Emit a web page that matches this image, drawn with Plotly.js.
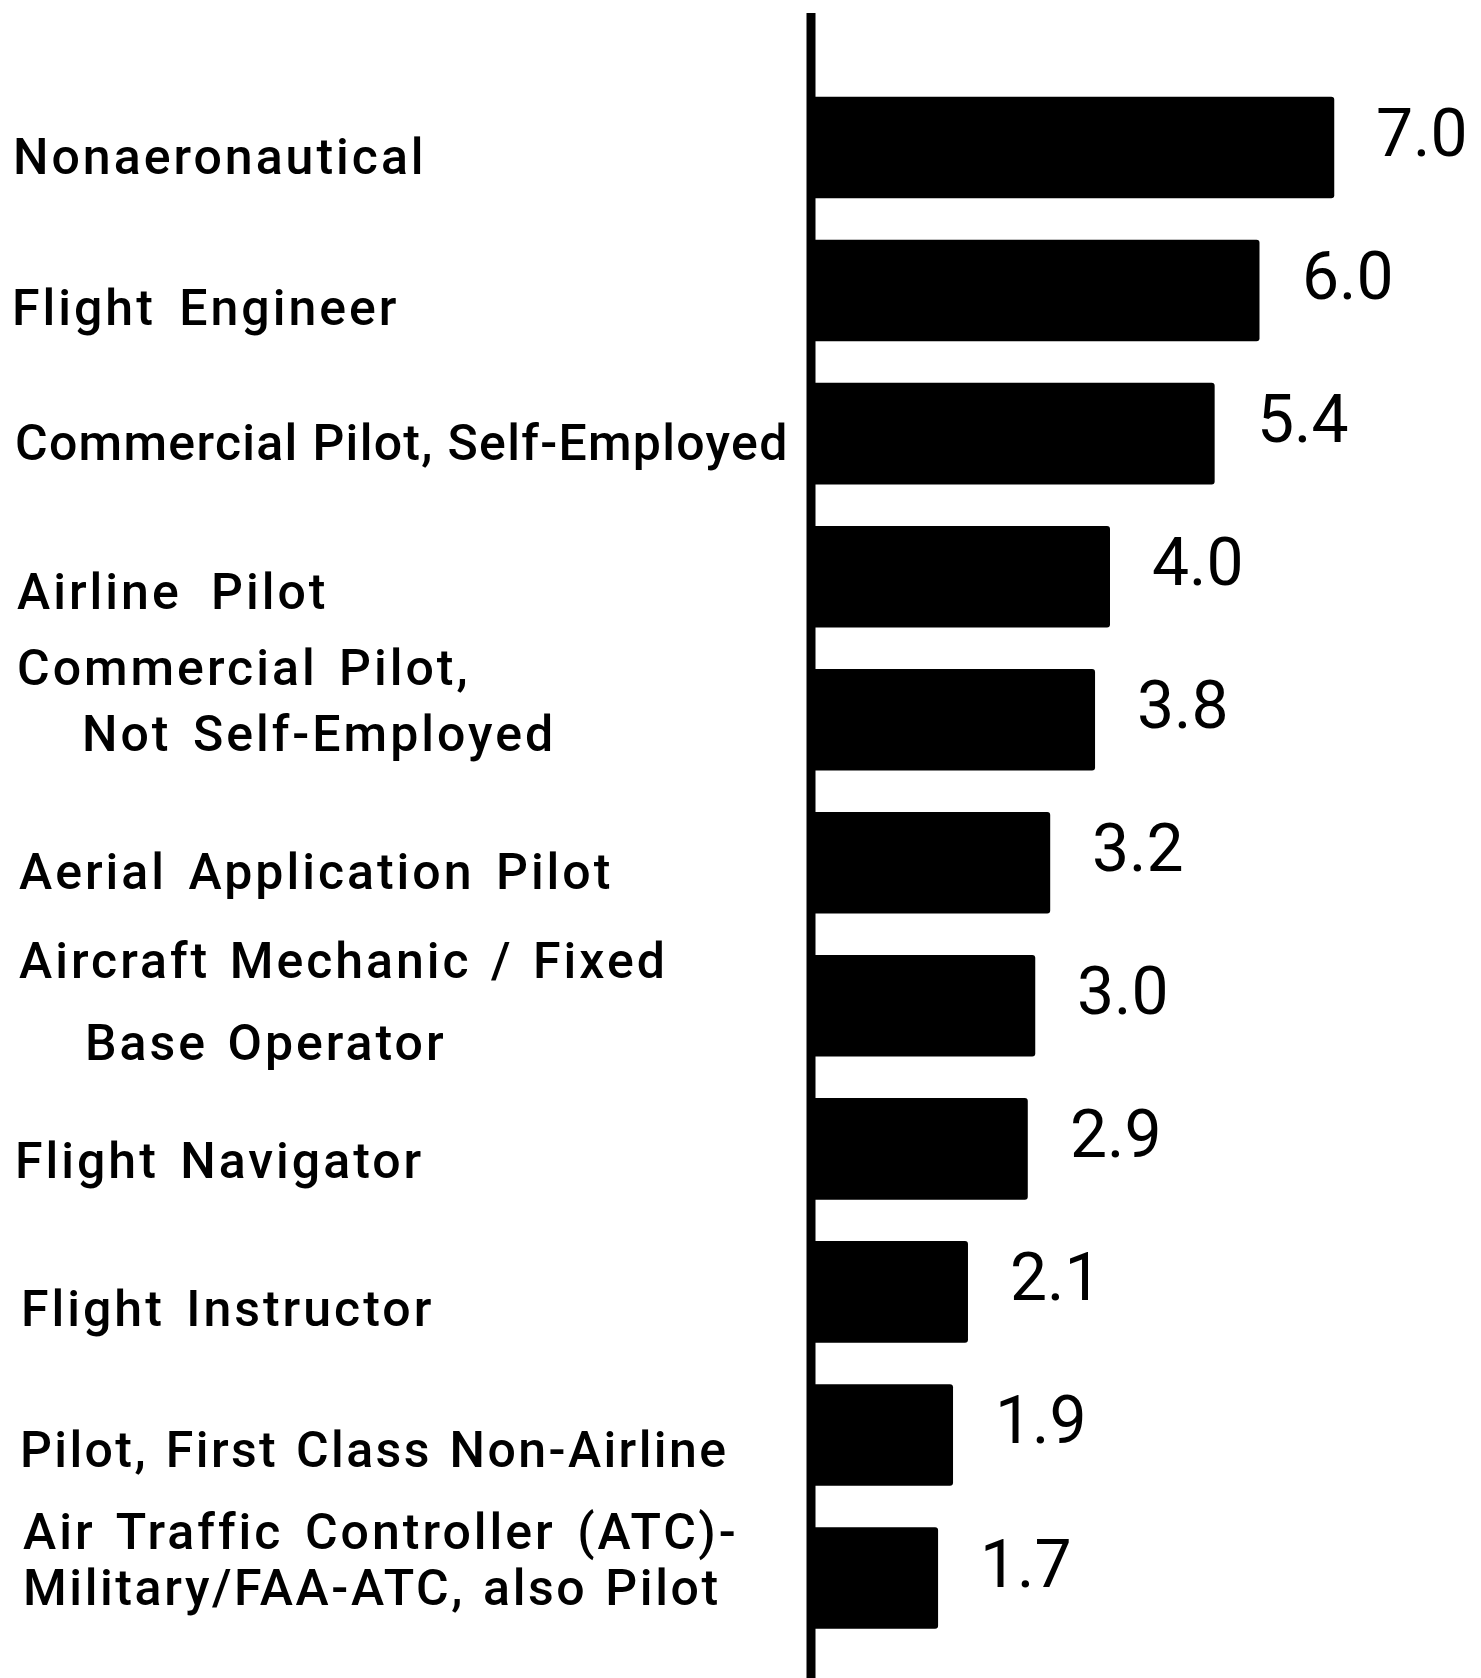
<!DOCTYPE html>
<html>
<head>
<meta charset="utf-8">
<script src="https://cdn.plot.ly/plotly-3.0.1.min.js"></script>
<style>
  html, body { margin: 0; padding: 0; background: #fff; }
  #chart { width: 1481px; height: 1678px; }
</style>
</head>
<body>
<div id="chart"></div>
<script>
// ---- data ----
const categories = [
  'Nonaeronautical',
  'Flight Engineer',
  'Commercial Pilot, Self-Employed',
  'Airline Pilot',
  'Commercial Pilot, Not Self-Employed',
  'Aerial Application Pilot',
  'Aircraft Mechanic / Fixed Base Operator',
  'Flight Navigator',
  'Flight Instructor',
  'Pilot, First Class Non-Airline',
  'Air Traffic Controller (ATC)-Military/FAA-ATC, also Pilot'
];
const values = [7.0, 6.0, 5.4, 4.0, 3.8, 3.2, 3.0, 2.9, 2.1, 1.9, 1.7];
const valueLabels = ['7.0', '6.0', '5.4', '4.0', '3.8', '3.2', '3.0', '2.9', '2.1', '1.9', '1.7'];
const labelLines = [
  ['Nonaeronautical'],
  ['Flight Engineer'],
  ['Commercial Pilot, Self-Employed'],
  ['Airline Pilot'],
  ['Commercial Pilot,', 'Not Self-Employed'],
  ['Aerial Application Pilot'],
  ['Aircraft Mechanic / Fixed', 'Base Operator'],
  ['Flight Navigator'],
  ['Flight Instructor'],
  ['Pilot, First Class Non-Airline'],
  ['Air Traffic Controller (ATC)-', 'Military/FAA-ATC, also Pilot']
];

// ---- layout geometry (pixels) ----
const W = 1481, H = 1678;
const marginL = 811, marginR = 72, marginT = 76, marginB = 23;
const plotW = W - marginL - marginR;
const plotH = H - marginT - marginB;
const xMax = 8;
// per-line vertical offsets (px, + = down) and left positions (px)
const lineDy = [[9],[17],[9],[15],[-52,14],[9],[-45,37],[12],[17],[15],[-46,10]];
const lineX  = [[11],[10],[13],[15],[15,80],[17],[17,83],[13],[19],[18],[21,21]];
// letter / word spacing per line (px)
const lineLS = [[3],[3],[1.3],[3],[3,3],[3],[3,3],[3],[3],[2.4],[3,2.6]];
const lineWS = [[6],[8],[0],[14],[6,6],[6],[4,4],[6],[6],[3],[6,3]];

const labelFont = { family: 'Roboto, "DejaVu Sans", sans-serif', size: 50, color: '#000', weight: 500 };
const valueFont = { family: 'Roboto, "DejaVu Sans", sans-serif', size: 66, color: '#000' };

const annotations = [];
const spacingByIndex = {};
labelLines.forEach((lines, i) => {
  lines.forEach((txt, j) => {
    spacingByIndex[annotations.length] = [lineLS[i][j], lineWS[i][j]];
    annotations.push({
      text: txt,
      xref: 'paper', yref: 'y',
      x: (lineX[i][j] - marginL) / plotW,
      y: categories[i],
      xanchor: 'left', yanchor: 'middle', align: 'left',
      yshift: -lineDy[i][j],
      showarrow: false,
      font: labelFont
    });
  });
});
values.forEach((v, i) => {
  annotations.push({
    text: valueLabels[i],
    xref: 'x', yref: 'y',
    x: v, y: categories[i],
    xanchor: 'left', yanchor: 'middle', align: 'left',
    xshift: 40, yshift: 14,
    showarrow: false,
    font: valueFont
  });
});

const trace = {
  type: 'bar',
  orientation: 'h',
  x: values,
  y: categories,
  marker: { color: '#000', line: { width: 0 }, cornerradius: 3 },
  hoverinfo: 'none'
};

const layout = {
  width: W, height: H,
  margin: { l: marginL, r: marginR, t: marginT, b: marginB, pad: 0 },
  paper_bgcolor: '#fff', plot_bgcolor: '#fff',
  showlegend: false,
  bargap: 0.29,
  xaxis: { range: [0, xMax], visible: false, fixedrange: true },
  yaxis: { type: 'category', autorange: 'reversed', visible: false, fixedrange: true },
  shapes: [{
    type: 'line', xref: 'paper', yref: 'paper',
    x0: 0, x1: 0,
    y0: -(marginB + 5) / plotH, y1: 1 + (marginT - 13) / plotH,
    line: { color: '#000', width: 9 }
  }],
  annotations: annotations
};

Plotly.newPlot('chart', [trace], layout, { staticPlot: true, displayModeBar: false }).then(gd => {
  gd.querySelectorAll('.annotation').forEach((el) => {
    const idx = +el.getAttribute('data-index');
    const sp = spacingByIndex[idx];
    if (sp) {
      el.querySelectorAll('text').forEach(t => {
        t.style.letterSpacing = sp[0] + 'px';
        t.style.wordSpacing = sp[1] + 'px';
      });
    }
  });
});
</script>
</body>
</html>
